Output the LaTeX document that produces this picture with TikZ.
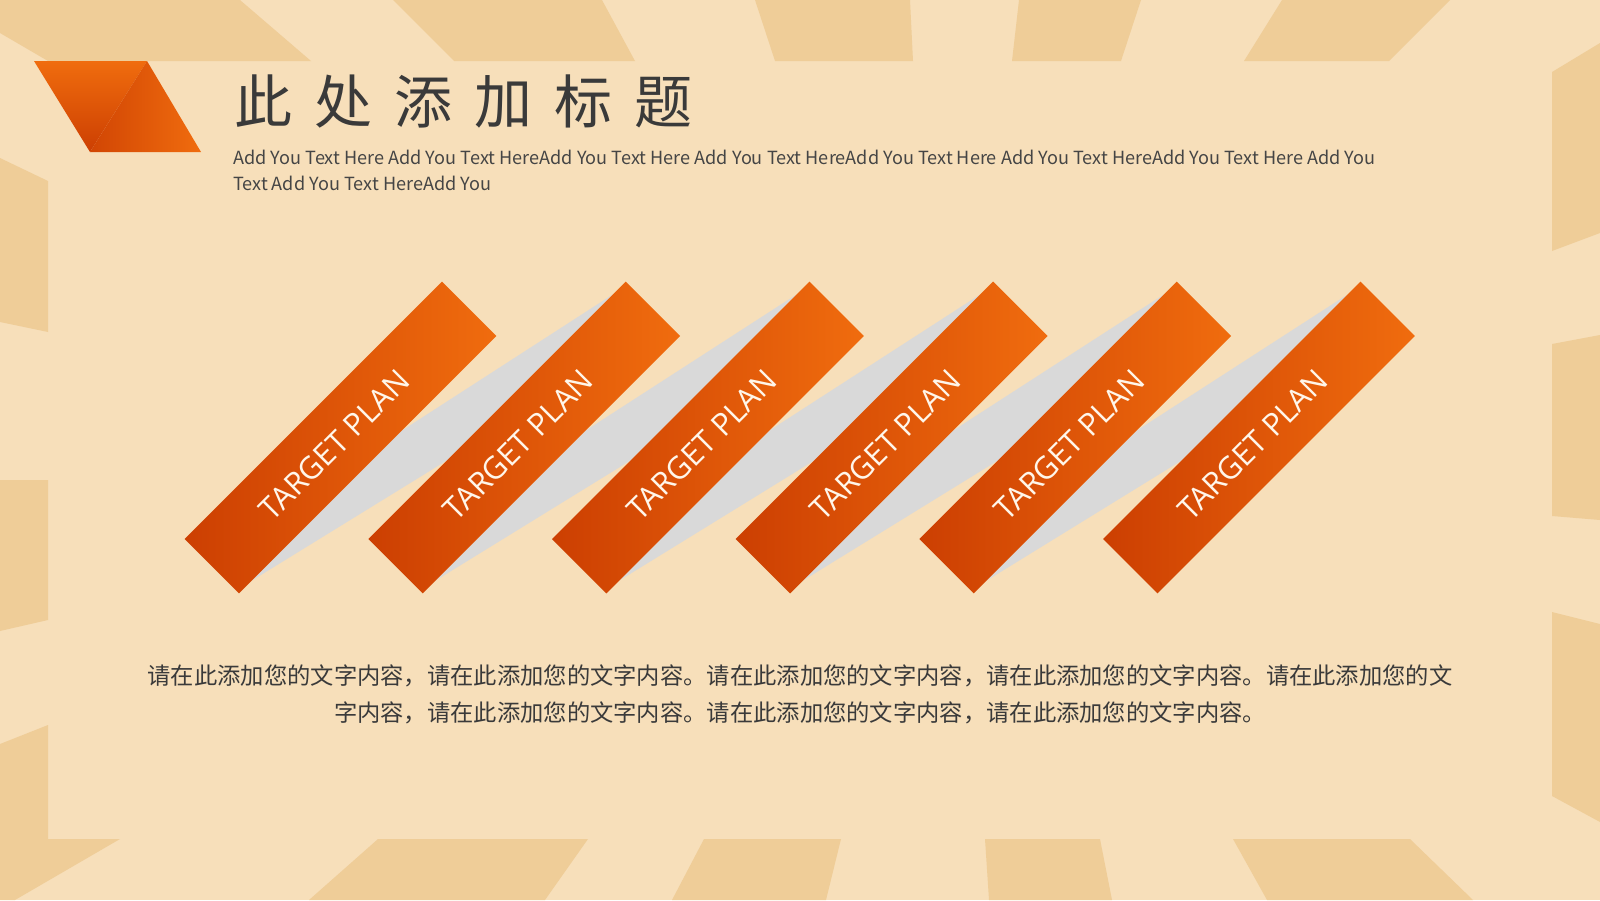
\documentclass[tikz,border=0pt]{standalone}
\usepackage{fontspec}
\newfontfamily\cjk{Noto Sans CJK SC}
\newfontfamily\osans{Open Sans}
\definecolor{bgl}{HTML}{F7DFBA}
\definecolor{bgd}{HTML}{EFCD98}
\definecolor{ordark}{HTML}{CC3F02}
\definecolor{orlight}{HTML}{F06C0E}
\definecolor{shadowgray}{HTML}{D9D9D9}
\definecolor{txt}{HTML}{3A3A3A}
\definecolor{txtsub}{HTML}{454545}
\definecolor{ribtext}{HTML}{FFF6EA}
\tikzset{
  stripe/.style={fill=bgd},
  ribbon/.style={left color=ordark, right color=orlight},
  fold/.style={fill=shadowgray},
  ribbonlabel/.style={rotate=45, text=ribtext, font=\osans\fontsize{31}{31}\selectfont, inner sep=0pt},
  bodyline/.style={anchor=base, text=txt, font=\cjk\fontsize{23.3}{23.3}\selectfont, inner sep=0pt},
  subline/.style={anchor=base west, text=txtsub, font=\cjk\fontsize{18.1}{18.1}\selectfont, inner sep=0pt}
}
\begin{document}
\begin{tikzpicture}[x=1pt,y=-1pt]
\useasboundingbox (0,0) rectangle (1600,900);
\fill[bgl] (0,0) rectangle (1600,900);
% top stripes
\fill[stripe] (0,0) -- (240,0) -- (311,61) -- (48,61) -- (0,33) -- cycle;
\fill[stripe] (393,0) -- (602,0) -- (635,61) -- (454,61) -- cycle;
\fill[stripe] (755,0) -- (910,0) -- (913,61) -- (775,61) -- cycle;
\fill[stripe] (1019,0) -- (1141,0) -- (1121,61) -- (1012,61) -- cycle;
\fill[stripe] (1282,0) -- (1450,0) -- (1389,61) -- (1244,61) -- cycle;
% right column
\fill[stripe] (1552,72) -- (1600,43) -- (1600,233) -- (1552,251) -- cycle;
\fill[stripe] (1552,344) -- (1600,335) -- (1600,520) -- (1552,516) -- cycle;
\fill[stripe] (1552,612) -- (1600,624) -- (1600,822) -- (1552,796) -- cycle;
% left column
\fill[stripe] (0,158) -- (48,181) -- (48,332) -- (0,322) -- cycle;
\fill[stripe] (0,480) -- (48,480) -- (48,620) -- (0,631) -- cycle;
\fill[stripe] (0,744) -- (48,725) -- (48,839) -- (120,839) -- (15,900) -- (0,900) -- cycle;
% bottom stripes
\fill[stripe] (378,839) -- (588,839) -- (545,900) -- (309,900) -- cycle;
\fill[stripe] (704,839) -- (841,839) -- (826,900) -- (672,900) -- cycle;
\fill[stripe] (985,839) -- (1100,839) -- (1112,900) -- (989,900) -- cycle;
\fill[stripe] (1233,839) -- (1410,839) -- (1473,900) -- (1267,900) -- cycle;
% logo
\shade[bottom color=ordark, top color=orlight] (34,61) -- (147,61) -- (90,152) -- cycle;
\shade[left color=ordark!85!orlight, right color=orlight] (147,61) -- (201,152) -- (90,152) -- cycle;
% title
\node[anchor=base west, text=txt, font=\cjk\fontsize{58}{58}\selectfont, inner sep=0pt] (title) at (234,123)
  {此\hspace{22pt}处\hspace{22pt}添\hspace{22pt}加\hspace{22pt}标\hspace{22pt}题};
\node[subline] (sub1) at (233,164.5) {Add You Text Here Add You Text HereAdd You Text Here Add You Text HereAdd You Text Here Add You Text HereAdd You Text Here Add You};
\node[subline] (sub2) at (233,190) {Text Add You Text HereAdd You};
% folds
\foreach \i in {0,...,4}{
  \pgfmathsetmacro\cx{340.5+183.7*\i}
  \pgfmathsetmacro\cn{\cx+183.7}
  \fill[fold] ({\cn+88.8},294.3) -- ({\cx+61.1},430.8) -- ({\cx-88.8},580.7) -- ({\cn-77.4},460.5) -- cycle;
}
% ribbons
\foreach \i in {0,...,5}{
  \pgfmathsetmacro\cx{340.5+183.7*\i}
  \shade[ribbon] ({\cx+101.5},281.6) -- ({\cx+155.9},336) -- ({\cx-101.5},593.4) -- ({\cx-155.9},539) -- cycle;
  \node[ribbonlabel] (rl\i) at ({\cx-6},445) {TARGET PLAN};
}
% body text
\node[bodyline] (body1) at (800,684) {请在此添加您的文字内容，请在此添加您的文字内容。请在此添加您的文字内容，请在此添加您的文字内容。请在此添加您的文};
\node[bodyline] (body2) at (800,721) {字内容，请在此添加您的文字内容。请在此添加您的文字内容，请在此添加您的文字内容。};
\end{tikzpicture}
\end{document}
